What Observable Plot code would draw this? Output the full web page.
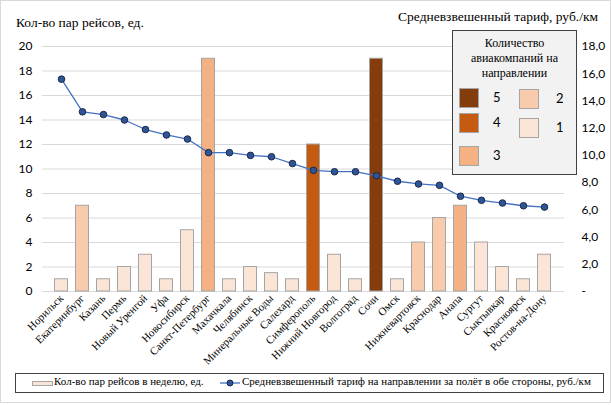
<!DOCTYPE html>
<html>
<head>
<meta charset="utf-8">
<script src="https://cdn.jsdelivr.net/npm/d3@7"></script>
<script src="https://cdn.jsdelivr.net/npm/@observablehq/plot@0.6"></script>
<style>
  html, body { margin: 0; padding: 0; background: #fff; }
  #wrap { position: relative; width: 611px; height: 405px; overflow: hidden; }
  .abs { position: absolute; }
  .serif { font-family: "Liberation Serif", "DejaVu Serif", serif; color: #000; }
  .num { font-family: Lato, "Open Sans", sans-serif; color: #000; }
</style>
</head>
<body>
<div id="wrap"></div>
<script>
const cities = ["Норильск","Екатеринбург","Казань","Пермь","Новый Уренгой","Уфа","Новосибирск","Санкт-Петербург","Махачкала","Челябинск","Минеральные Воды","Салехард","Симферополь","Нижний Новгород","Волгоград","Сочи","Омск","Нижневартовск","Краснодар","Анапа","Сургут","Сыктывкар","Красноярск","Ростов-на-Дону"];
const flights = [1,7,1,2,3,1,5,19,1,2,1.5,1,12,3,1,19,1,4,6,7,4,2,1,3];
const airlines = [1,2,1,1,1,1,1,3,1,1,1,1,4,1,1,5,1,2,2,3,1,1,1,1];
const tariff = [15.6,13.2,13.0,12.6,11.9,11.5,11.2,10.2,10.2,10.0,9.9,9.4,8.9,8.8,8.8,8.5,8.1,7.9,7.8,7.0,6.7,6.5,6.3,6.2];
const airlineLevels = [5,4,3,2,1];
const airlineColors = ["#843C0C","#C55A11","#F4B183","#F8CBAD","#FBE5D6"];
const leftTicks = [0,2,4,6,8,10,12,14,16,18,20];
const rightTicks = [0,2,4,6,8,10,12,14,16,18];
const leftMax = 20, rightMax = 18;

const titleLeft = "Кол-во пар рейсов, ед.";
const titleRight = "Средневзвешенный тариф, руб./км";
const legendTitle = ["Количество", "авиакомпаний на", "направлении"];
const seriesBar = "Кол-во пар рейсов в неделю, ед.";
const seriesLine = "Средневзвешенный тариф на направлении за полёт в обе стороны, руб./км";

const data = cities.map((c, i) => ({city: c, flights: flights[i], airlines: airlines[i], tariff: tariff[i], tScaled: tariff[i] * leftMax / rightMax}));

const serif = "Liberation Serif, DejaVu Serif, serif";
const numFont = "Lato, Open Sans, sans-serif";

const chart = Plot.plot({
  width: 611,
  height: 405,
  marginLeft: 42,
  marginRight: 47,
  marginTop: 46,
  marginBottom: 114,
  style: {background: "transparent", overflow: "visible"},
  x: {type: "band", domain: cities, paddingInner: 0.32, paddingOuter: 0.16, label: null},
  y: {domain: [0, leftMax], label: null},
  color: {type: "ordinal", domain: airlineLevels, range: airlineColors},
  marks: [
    Plot.gridY(leftTicks, {stroke: "#d9d9d9", strokeOpacity: 1, strokeWidth: 1.2}),
    Plot.barY(data, {x: "city", y: "flights", fill: "airlines", stroke: "#a5a5a5", strokeWidth: 1, insetLeft: 0.5, insetRight: 0.5}),
    Plot.line(data, {x: "city", y: "tScaled", stroke: "#4472C4", strokeWidth: 1.3}),
    Plot.dot(data, {x: "city", y: "tScaled", r: 3.3, fill: "#2F5597", stroke: "#1b2a48", strokeWidth: 1}),
    Plot.axisY({anchor: "left", ticks: leftTicks, tickSize: 0, tickPadding: 10, fontSize: 12, fontFamily: numFont, label: null, tickFormat: d => String(d)}),
    Plot.axisY({anchor: "right", ticks: rightTicks.map(v => v * leftMax / rightMax), tickSize: 0, tickPadding: 17, fontSize: 12, fontFamily: numFont, label: null,
      tickFormat: d => { const v = Math.round(d * rightMax / leftMax * 10) / 10; return v === 0 ? "-" : v.toFixed(1).replace(".", ","); }}),
    Plot.axisX({tickRotate: -45, tickSize: 0, tickPadding: 5, fontSize: 11, fontFamily: serif, label: null})
  ]
});
chart.style.position = "absolute";
chart.style.left = "0px";
chart.style.top = "0px";
chart.querySelectorAll("text").forEach(t => t.setAttribute("fill", "#000"));

const wrap = document.getElementById("wrap");
wrap.appendChild(chart);

function el(html, css) {
  const d = document.createElement("div");
  d.className = "abs";
  d.innerHTML = html;
  Object.assign(d.style, css);
  wrap.appendChild(d);
  return d;
}

// outer frame
el("", {left: "0px", top: "0px", width: "609px", height: "401px", border: "1px solid #d9d9d9"});

// axis titles
el(titleLeft, {left: "16px", top: "15px", fontSize: "13.5px", whiteSpace: "nowrap"}).classList.add("serif");
el(titleRight, {right: "13px", top: "9px", fontSize: "13.5px", whiteSpace: "nowrap"}).classList.add("serif");

// in-plot legend box
const lb = el("", {left: "452px", top: "30px", width: "123px", height: "143px", background: "#f2f2f2", border: "1px solid #404040"});
const lt = document.createElement("div");
lt.className = "serif";
Object.assign(lt.style, {position: "absolute", left: "0", top: "5px", width: "123px", textAlign: "center", fontSize: "12px", lineHeight: "15px"});
lt.innerHTML = legendTitle.join("<br>");
lb.appendChild(lt);
const legPos = {5: [6, 57], 4: [6, 82], 3: [6, 115], 2: [66, 58], 1: [66, 87]};
airlineLevels.forEach((lvl, i) => {
  const [x, y] = legPos[lvl];
  const sw = document.createElement("div");
  Object.assign(sw.style, {position: "absolute", left: x + "px", top: y + "px", width: "18px", height: "18px", background: airlineColors[i], border: "1px solid #a5a5a5"});
  lb.appendChild(sw);
  const tx = document.createElement("div");
  tx.className = "num";
  tx.textContent = String(lvl);
  Object.assign(tx.style, {position: "absolute", left: (x + (lvl > 2 ? 34 : 37)) + "px", top: (y + 1) + "px", fontSize: "13px"});
  lb.appendChild(tx);
});

// bottom legend
const bl = el("", {left: "15px", top: "373px", width: "587px", height: "18px", border: "1px solid #404040", background: "#fff"});
const s1 = document.createElement("div");
Object.assign(s1.style, {position: "absolute", left: "16px", top: "7px", width: "19px", height: "3px", background: airlineColors[4], border: "1px solid #a5a5a5"});
bl.appendChild(s1);
const t1 = document.createElement("div");
t1.className = "serif";
t1.textContent = seriesBar;
Object.assign(t1.style, {position: "absolute", left: "38px", top: "1px", fontSize: "11px", whiteSpace: "nowrap"});
bl.appendChild(t1);
const ln = document.createElementNS("http://www.w3.org/2000/svg", "svg");
ln.setAttribute("width", "22"); ln.setAttribute("height", "18");
Object.assign(ln.style, {position: "absolute", left: "203px", top: "0px"});
ln.innerHTML = '<line x1="1" x2="21" y1="9" y2="9" stroke="#4472C4" stroke-width="1.3"/><circle cx="11" cy="9" r="3" fill="#2F5597" stroke="#1b2a48"/>';
bl.appendChild(ln);
const t2 = document.createElement("div");
t2.className = "serif";
t2.textContent = seriesLine;
Object.assign(t2.style, {position: "absolute", left: "226px", top: "1px", fontSize: "11px", whiteSpace: "nowrap"});
bl.appendChild(t2);
</script>
</body>
</html>
